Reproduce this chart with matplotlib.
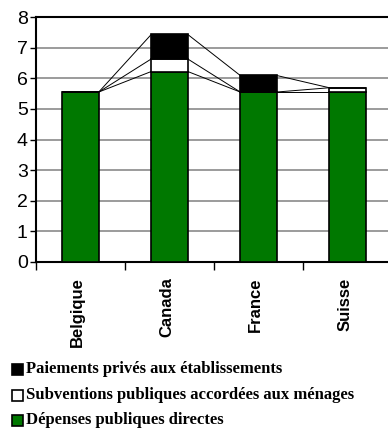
import matplotlib
matplotlib.use("Agg")
import matplotlib.pyplot as plt
import numpy as np
from matplotlib.patches import Rectangle

countries = ["Belgique", "Canada", "France", "Suisse"]
direct_public = [5.55, 6.22, 5.55, 5.55]
household_subsidies = [0.0, 0.41, 0.0, 0.14]
private_payments = [0.0, 0.80, 0.54, 0.0]
legend_labels = ["Paiements privés aux établissements",
                 "Subventions publiques accordées aux ménages",
                 "Dépenses publiques directes"]
yticks = list(range(0, 9))

GREEN = "#007800"
W, H = 388, 432
fig = plt.figure(figsize=(W / 100, H / 100), dpi=100)
x0, x1, ybot, ytop = 36, 392, 262, 17
ax = fig.add_axes([x0 / W, 1 - ybot / H, (x1 - x0) / W, (ybot - ytop) / H])

x = np.arange(len(countries))
bw = 0.41
d = np.array(direct_public)
s = np.array(household_subsidies)
p = np.array(private_payments)
ax.bar(x, d, bw, color=GREEN, edgecolor="black", linewidth=1.2, zorder=3)
ax.bar(x, s, bw, bottom=d, color="white", edgecolor="black", linewidth=1.2, zorder=3)
ax.bar(x, p, bw, bottom=d + s, color="black", edgecolor="black", linewidth=1.2, zorder=3)

# series lines joining stacked levels of neighbouring bars
levels = [d, d + s, d + s + p]
for lv in levels:
    for i in range(len(x) - 1):
        ax.plot([x[i] + bw / 2, x[i + 1] - bw / 2], [lv[i], lv[i + 1]],
                color="black", linewidth=0.7, zorder=2)

ax.set_xlim(-0.5, len(x) - 0.5)
ax.set_ylim(0, 8)
ax.set_yticks(yticks)
ax.set_yticklabels([str(v) for v in yticks], fontname="Liberation Sans", fontsize=14)
ax.yaxis.grid(True, color="#808080", linewidth=1.1, zorder=0)
ax.set_axisbelow(True)
ax.set_xticks(np.arange(-0.5, len(x) + 0.5, 1))
ax.set_xticklabels([])
ax.tick_params(axis="x", direction="out", length=6, width=1)
ax.tick_params(axis="y", direction="out", length=4, width=1, pad=2)
for sp in ax.spines.values():
    sp.set_linewidth(1.5)

for xi, name in zip(x, countries):
    ax.text(xi - 0.03, -0.5, name, rotation=90, ha="center", va="top",
            fontname="Liberation Sans", fontweight="bold", fontsize=12)

# legend drawn as text rows with square markers
colors = ["black", "white", GREEN]
rows = [369, 395, 420]
for lab, col, yy in zip(legend_labels, colors, rows):
    fig.patches.append(Rectangle((12 / W, 1 - (yy + 6) / H), 11 / W, 11 / H,
                                 facecolor=col, edgecolor="black", linewidth=1.2,
                                 transform=fig.transFigure, figure=fig))
    fig.text(26 / W, 1 - yy / H, lab, ha="left", va="center",
             fontname="Liberation Serif", fontweight="bold", fontsize=12)

fig.savefig("out.png", dpi=100)
